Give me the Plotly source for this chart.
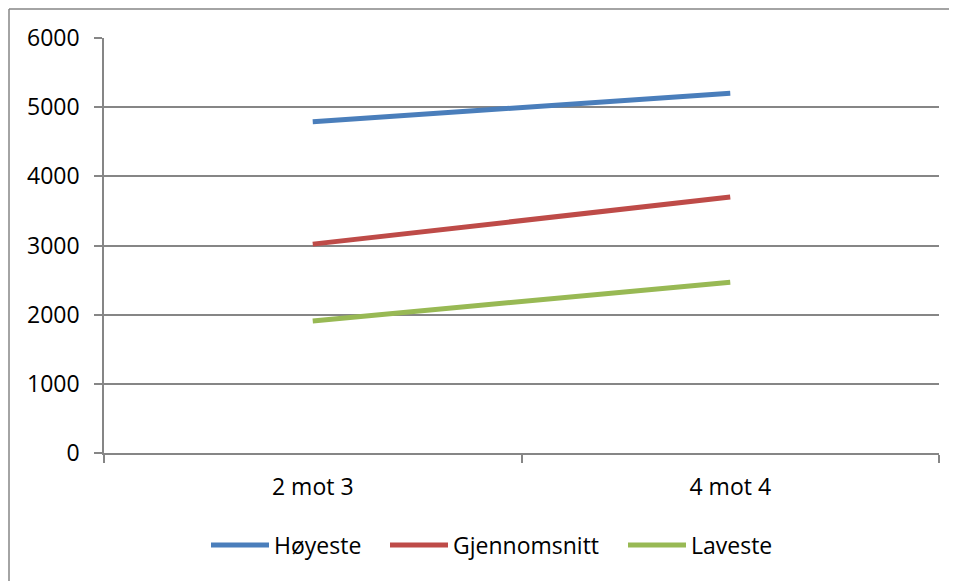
import plotly.graph_objects as go

categories = ["2 mot 3", "4 mot 4"]
hoyeste = [4790, 5200]
gjennomsnitt = [3020, 3700]
laveste = [1910, 2470]
y_ticks = [0, 1000, 2000, 3000, 4000, 5000, 6000]

# page has an 8px body margin, so the figure starts at page (8, 8)
W, H = 949, 573
L, R, T, B = 96, 18, 30, 128
PW, PH = W - L - R, H - T - B
PLOT_X0 = L + 8  # page x of plot left edge

series = [("Høyeste", hoyeste, "#4A7EBB", "legend", 206),
          ("Gjennomsnitt", gjennomsnitt, "#BE4B48", "legend2", 385),
          ("Laveste", laveste, "#98B954", "legend3", 623)]

fig = go.Figure()
legend_cfg = {}
for name, vals, col, lg, px in series:
    fig.add_trace(go.Scatter(x=categories, y=vals, name=name, mode="lines",
                             line=dict(color=col, width=5), legend=lg))
    legend_cfg[lg] = dict(orientation="h", x=(px - PLOT_X0) / PW, xanchor="left",
                          y=-92 / PH, yanchor="middle", font=dict(size=23),
                          itemwidth=58, bgcolor="rgba(0,0,0,0)")

fig.update_layout(
    width=W, height=H,
    margin=dict(l=L, r=R, t=T, b=B),
    paper_bgcolor="white", plot_bgcolor="white",
    font=dict(family="Open Sans, Liberation Sans, sans-serif", size=23, color="black"),
    showlegend=True,
    xaxis=dict(type="category", range=[-0.5, 1.5], tickson="boundaries",
               ticks="outside", ticklen=8, tickcolor="#868686", tickwidth=1.5,
               showline=True, linecolor="#868686", linewidth=1.5,
               showgrid=False, zeroline=False, ticklabelstandoff=13),
    yaxis=dict(range=[0, 6000], tickvals=y_ticks, ticks="outside", ticklen=8,
               tickcolor="#868686", tickwidth=1.5,
               showline=True, linecolor="#868686", linewidth=1.5,
               showgrid=True, gridcolor="#868686", gridwidth=1.5,
               zeroline=False, ticklabelstandoff=10),
    **legend_cfg,
)

# chart border (left and top edges visible in the frame)
fig.add_shape(type="line", xref="paper", yref="paper",
              x0=-(L - 1) / PW, x1=-(L - 1) / PW, y0=-B / PH, y1=1 + (T - 1) / PH,
              line=dict(color="#868686", width=1.5), layer="below")
fig.add_shape(type="line", xref="paper", yref="paper",
              x0=-(L - 1) / PW, x1=1 + R / PW, y0=1 + (T - 1) / PH, y1=1 + (T - 1) / PH,
              line=dict(color="#868686", width=1.5), layer="below")

fig.write_html("out.html")
